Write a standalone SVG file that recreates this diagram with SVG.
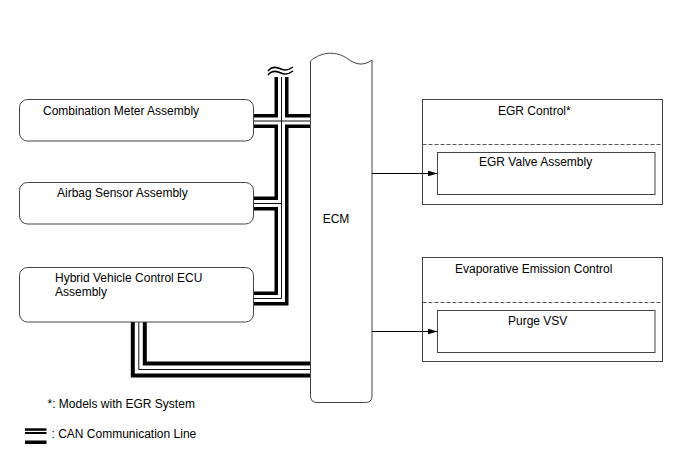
<svg xmlns="http://www.w3.org/2000/svg" width="688" height="463" viewBox="0 0 688 463">
<defs>
<style>
text{font-family:"Liberation Sans",Arial,sans-serif;font-size:12px;fill:#000}
.box{fill:#fff;stroke:#444;stroke-width:1}
.dash{stroke:#555;stroke-width:1;stroke-dasharray:4 2;fill:none}
.canB{fill:none;stroke:#000;stroke-width:14;stroke-linejoin:miter}
.canW{fill:none;stroke:#fff;stroke-width:7;stroke-linejoin:miter}
.canT{fill:none;stroke:#111;stroke-width:1}
.arr{stroke:#000;stroke-width:1;fill:none}
</style>
<marker id="ah" viewBox="0 0 10 6" refX="10" refY="3" markerWidth="10" markerHeight="6" markerUnits="userSpaceOnUse" orient="auto">
<path d="M0,0 L10,3 L0,6 Z" fill="#000"/>
</marker>
</defs>
<rect width="688" height="463" fill="#fff"/>

<g id="can-lines">
  <g class="canB">
    <path d="M281.5,77 V298.5 H253"/>
    <path d="M253,121 H310"/>
    <path d="M253,203.5 H281.5"/>
    <path d="M138.8,322 V369.5 H310" style="stroke-width:16"/>
  </g>
  <g class="canW">
    <path d="M281.5,77 V298.5 H253"/>
    <path d="M253,121 H310"/>
    <path d="M253,203.5 H281.5"/>
    <path d="M138.8,322 V369.5 H310" style="stroke-width:8"/>
  </g>
  <g class="canT">
    <path d="M281.5,77 V298.5 H253"/>
    <path d="M253,121 H310"/>
    <path d="M253,203.5 H281.5"/>
    <path d="M138.8,322 V369.5 H310"/>
  </g>
  <g id="break" fill="none" stroke="#000" stroke-width="1.5">
    <path d="M268,71 C272,66 277,67 281,69 C285,71 289,70 293,67"/>
    <path d="M268,75 C272,70 277,71 281,73 C285,75 289,74 293,71"/>
  </g>
</g>

<g id="combination-meter">
  <rect class="box" x="19.5" y="99.5" width="234" height="41.5" rx="8"/>
  <text x="43" y="115">Combination Meter Assembly</text>
</g>
<g id="airbag-sensor">
  <rect class="box" x="19.5" y="182.5" width="234" height="41.5" rx="8"/>
  <text x="57" y="197">Airbag Sensor Assembly</text>
</g>
<g id="hybrid-ecu">
  <rect class="box" x="19.5" y="267.5" width="234" height="54.5" rx="8"/>
  <text x="55" y="282">Hybrid Vehicle Control ECU</text>
  <text x="55" y="296">Assembly</text>
</g>
<g id="ecm">
  <path class="box" d="M310.5,61 C322,51 337,51 348,59 C356,65 364,66 372,60 V396 Q372,402.5 365.5,402.5 H317 Q310.5,402.5 310.5,396 Z"/>
  <text x="336" y="223" text-anchor="middle">ECM</text>
</g>
<g id="egr-control">
  <rect class="box" x="422.5" y="99.5" width="240" height="105"/>
  <text x="498" y="115">EGR Control*</text>
  <line class="dash" x1="422.5" y1="144.5" x2="662.5" y2="144.5"/>
</g>
<g id="egr-valve">
  <rect class="box" x="437.5" y="152.5" width="217.5" height="42"/>
  <text x="479" y="166">EGR Valve Assembly</text>
</g>
<g id="evap-control">
  <rect class="box" x="422.5" y="257.5" width="240" height="104"/>
  <text x="455" y="273">Evaporative Emission Control</text>
  <line class="dash" x1="422.5" y1="302.5" x2="662.5" y2="302.5"/>
</g>
<g id="purge-vsv">
  <rect class="box" x="437.5" y="310.5" width="217.5" height="42"/>
  <text x="508" y="325">Purge VSV</text>
</g>

<g id="arrows">
  <path class="arr" d="M372,173.5 H437.5" marker-end="url(#ah)"/>
  <path class="arr" d="M372,331.5 H437.5" marker-end="url(#ah)"/>
</g>

<g id="legend">
  <text x="47.5" y="407.5">*: Models with EGR System</text>
  <rect x="25" y="428.3" width="21.5" height="2.5" fill="#000"/>
  <rect x="25" y="432" width="21.5" height="2" fill="#000"/>
  <rect x="25" y="440.5" width="21.5" height="3.5" fill="#000"/>
  <text x="51.5" y="438">: CAN Communication Line</text>
</g>
</svg>
